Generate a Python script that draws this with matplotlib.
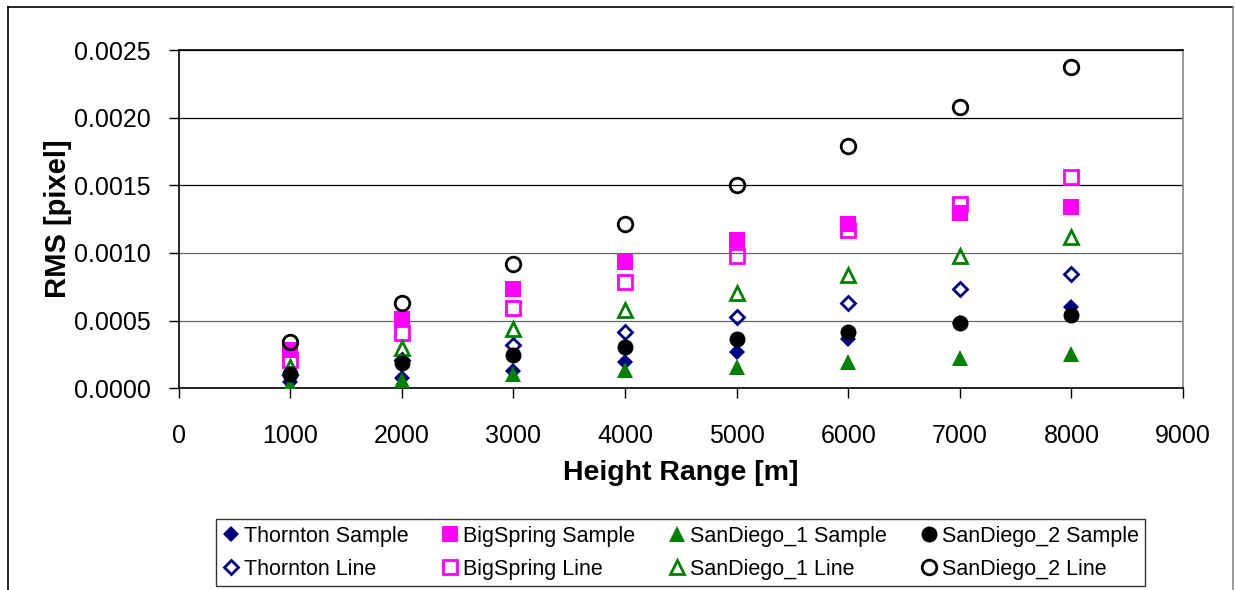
import matplotlib
matplotlib.use('Agg')
from matplotlib import pyplot as plt
from matplotlib.lines import Line2D
import numpy

plt.rcParams['font.family'] = ['Liberation Sans', 'DejaVu Sans']

heights = [1000, 2000, 3000, 4000, 5000, 6000, 7000, 8000]

thornton_sample = [0.00005, 0.000074, 0.00013, 0.000192, 0.000265, 0.000368, 0.00048, 0.000602]
thornton_line = [0.0001, 0.000209, 0.00032, 0.000418, 0.000529, 0.000632, 0.000737, 0.000843]
bigspring_sample = [0.000283, 0.000511, 0.000737, 0.000934, 0.001094, 0.001212, 0.001293, 0.00134]
bigspring_line = [0.000209, 0.000406, 0.000597, 0.000787, 0.000976, 0.001168, 0.001362, 0.001561]
sandiego1_sample = [0.000025, 0.000061, 0.000106, 0.000135, 0.00016, 0.000194, 0.000226, 0.000253]
sandiego1_line = [0.00016, 0.000295, 0.000435, 0.000578, 0.000706, 0.00084, 0.000978, 0.001118]
sandiego2_sample = [0.000106, 0.000184, 0.000246, 0.000307, 0.000364, 0.000418, 0.000479, 0.000541]
sandiego2_line = [0.000344, 0.000632, 0.000922, 0.001212, 0.001504, 0.00179, 0.00208, 0.002372]

navy = '#000080'
magenta = '#FF00FF'
green = '#008000'

# (label, values, marker, size, colour, filled)
series = [
    ('Thornton Sample', thornton_sample, 'D', 8.5, navy, True),
    ('Thornton Line', thornton_line, 'D', 7.0, navy, False),
    ('BigSpring Sample', bigspring_sample, 's', 11.0, magenta, True),
    ('BigSpring Line', bigspring_line, 's', 10.0, magenta, False),
    ('SanDiego_1 Sample', sandiego1_sample, '^', 11.5, green, True),
    ('SanDiego_1 Line', sandiego1_line, '^', 10.0, green, False),
    ('SanDiego_2 Sample', sandiego2_sample, 'o', 11.5, 'black', True),
    ('SanDiego_2 Line', sandiego2_line, 'o', 10.5, 'black', False),
]

fig = plt.figure(figsize=(12.35, 5.9), dpi=100)
ax = fig.add_axes([178.6 / 1235, 1 - 388.3 / 590, (1183 - 178.6) / 1235, (388.3 - 50) / 590])

# outer chart frame
fig.add_artist(Line2D([8 / 1235, 8 / 1235], [0, 1 - 7 / 590], transform=fig.transFigure, color='black', lw=1.2))
fig.add_artist(Line2D([8 / 1235, 1233 / 1235], [1 - 7 / 590, 1 - 7 / 590], transform=fig.transFigure, color='black', lw=1.2))
fig.add_artist(Line2D([1233 / 1235, 1233 / 1235], [0, 1 - 7 / 590], transform=fig.transFigure, color='#888888', lw=1.2))

for label, values, marker, size, colour, filled in series:
    ax.plot(heights, values, linestyle='none', marker=marker, markersize=size,
            markerfacecolor=colour if filled else 'none',
            markeredgecolor=colour, markeredgewidth=0 if filled else 2.0,
            label=label, zorder=3)

ax.set_xlim(0, 9000)
ax.set_ylim(0, 0.0025)
ax.set_xticks(numpy.arange(0, 9001, 1000))
ax.set_yticks(numpy.arange(0, 0.00251, 0.0005))
ax.set_yticklabels(['{:.4f}'.format(v) for v in numpy.arange(0, 0.00251, 0.0005)])
ax.yaxis.grid(True, color='black', lw=0.9)
ax.set_axisbelow(True)
gridlines = ax.get_ygridlines()
for g in gridlines[1:3]:
    g.set_color('#666666')

for side in ['left', 'bottom', 'top']:
    ax.spines[side].set_color('black')
    ax.spines[side].set_linewidth(1.2)
ax.spines['right'].set_color('#888888')
ax.spines['right'].set_linewidth(1.2)

ax.tick_params(axis='both', direction='out', length=7, width=1.0, labelsize=18)
ax.tick_params(axis='x', pad=19)
ax.tick_params(axis='y', pad=13)

ax.set_xlabel('Height Range [m]', fontsize=20.5, fontweight='bold', labelpad=8)
ax.set_ylabel('RMS [pixel]', fontsize=21, fontweight='bold', labelpad=1.5)

leg = fig.legend(loc='lower left', bbox_to_anchor=(216 / 1235, 1 - 586 / 590, (1145 - 216) / 1235, (586 - 516.7) / 590),
                 mode='expand', ncol=4, fontsize=15.5, frameon=True, fancybox=False,
                 borderaxespad=0, handlelength=0.8, handletextpad=0.2, columnspacing=0.8,
                 labelspacing=0.55, borderpad=0.3)
leg.get_frame().set_edgecolor('black')
leg.get_frame().set_linewidth(1.0)

plt.savefig('out.png', dpi=100)
